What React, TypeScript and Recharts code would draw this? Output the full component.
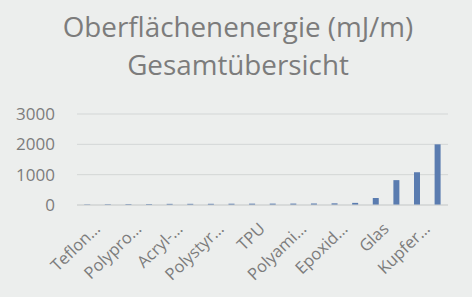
import React from "react";
import { BarChart, Bar, XAxis, YAxis, CartesianGrid } from "recharts";

// Surface energy overview, sorted ascending (mJ/m)
const materials = [
  "Teflon (PTFE)",
  "Silikon",
  "Polypropylen",
  "Polyethylen",
  "Acryl-Glas (PMMA)",
  "PVC",
  "Polystyrol",
  "PET",
  "TPU",
  "Polycarbonat",
  "Polyamid",
  "PBT",
  "Epoxidharz",
  "Keramik",
  "Glas",
  "Aluminium",
  "Kupfer (Cu)",
  "Stahl",
];
const energies = [18, 24, 29, 31, 38, 39, 40, 43, 45, 46, 47, 50, 55, 70, 230, 820, 1080, 2000];
// Shortened axis captions as shown under every second category
const tickLabels = [
  "Teflon…", "", "Polypro…", "", "Acryl-…", "", "Polystyr…", "", "TPU", "",
  "Polyami…", "", "Epoxid…", "", "Glas", "", "Kupfer…", "",
];
const yTicks = [0, 1000, 2000, 3000];
const titleLines = ["Oberflächenenergie (mJ/m)", "Gesamtübersicht"];

const data = materials.map((name, i) => ({ name, value: energies[i], label: tickLabels[i] }));

const FONT = "'Open Sans', sans-serif";
const TEXT = "#7c7c7c";

const CategoryTick = (props: any) => {
  const { x, y, index } = props;
  const label = tickLabels[index];
  if (!label) return null;
  const ax = x + 14;
  const ay = y + 17;
  return (
    <text
      x={ax}
      y={ay}
      textAnchor="end"
      fill={TEXT}
      fontSize={16.5}
      fontFamily={FONT}
      transform={`rotate(-44 ${ax} ${ay})`}
    >
      {label}
    </text>
  );
};

export default function App() {
  return (
    <div
      style={{
        position: "absolute",
        left: 0,
        top: 0,
        width: 472,
        height: 297,
        background: "#eceeed",
        overflow: "hidden",
      }}
    >
      <svg width={472} height={90} style={{ position: "absolute", left: 0, top: 0 }}>
        <text x={238} y={37} textAnchor="middle" fill={TEXT} fontSize={27.8} fontFamily={FONT}>
          {titleLines[0]}
        </text>
        <text x={238} y={75} textAnchor="middle" fill={TEXT} fontSize={27.8} fontFamily={FONT}>
          {titleLines[1]}
        </text>
      </svg>
      <div style={{ position: "absolute", left: 0, top: 0 }}>
        <BarChart
          width={472}
          height={297}
          data={data}
          margin={{ top: 114, right: 24, bottom: 0, left: 0 }}
          barCategoryGap="35%"
        >
          <CartesianGrid vertical={false} stroke="#d3d6d6" strokeWidth={1} />
          <XAxis
            dataKey="name"
            interval={0}
            axisLine={{ stroke: "#cfd2d2" }}
            tickLine={false}
            height={92}
            tick={<CategoryTick />}
          />
          <YAxis
            domain={[0, 3000]}
            ticks={yTicks}
            width={77}
            axisLine={false}
            tickLine={false}
            tickSize={0}
            tickMargin={22}
            tick={{ fill: TEXT, fontSize: 17, fontFamily: FONT }}
          />
          <Bar dataKey="value" fill="#5a7cb0" isAnimationActive={false} />
        </BarChart>
      </div>
    </div>
  );
}
